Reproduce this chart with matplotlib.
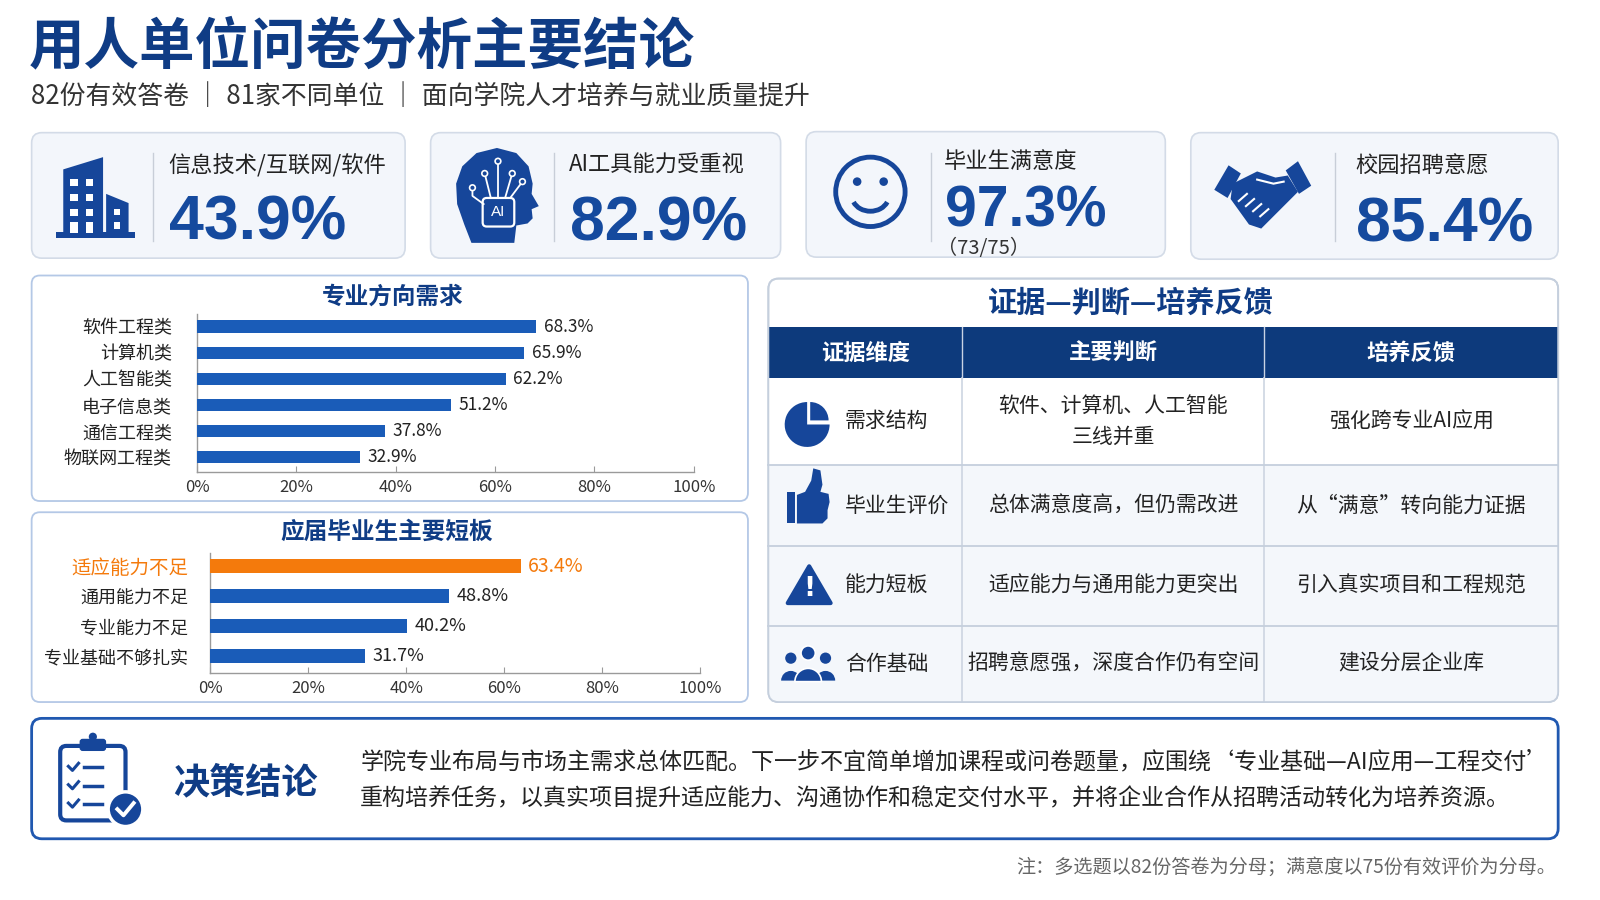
import matplotlib
matplotlib.use('Agg')
import matplotlib.pyplot as plt
from matplotlib.patches import FancyBboxPatch, Rectangle, Circle, Wedge, Polygon, Arc
import numpy as np

plt.rcParams['font.family'] = ['Noto Sans CJK SC', 'DejaVu Sans']

NAVY = '#0f3c85'
BLUE = '#1a5cb8'
ICON = '#16469a'
ORANGE = '#f47a0c'
DARK = '#222222'

# ---- data ----
title = '用人单位问卷分析主要结论'
subtitle = '82份有效答卷 ｜ 81家不同单位 ｜ 面向学院人才培养与就业质量提升'

kpi_labels = ['信息技术/互联网/软件', 'AI工具能力受重视', '毕业生满意度', '校园招聘意愿']
kpi_values = [43.9, 82.9, 97.3, 85.4]
kpi_notes = ['', '', '（73/75）', '']

major_names = ['软件工程类', '计算机类', '人工智能类', '电子信息类', '通信工程类', '物联网工程类']
major_pct = [68.3, 65.9, 62.2, 51.2, 37.8, 32.9]

gap_names = ['适应能力不足', '通用能力不足', '专业能力不足', '专业基础不够扎实']
gap_pct = [63.4, 48.8, 40.2, 31.7]

table_title = '证据—判断—培养反馈'
table_head = ['证据维度', '主要判断', '培养反馈']
table_dims = ['需求结构', '毕业生评价', '能力短板', '合作基础']
table_judge = ['软件、计算机、人工智能\n三线并重', '总体满意度高，但仍需改进',
               '适应能力与通用能力更突出', '招聘意愿强，深度合作仍有空间']
table_feedback = ['强化跨专业AI应用', '从“满意”转向能力证据', '引入真实项目和工程规范', '建设分层企业库']

conclusion_title = '决策结论'
conclusion_lines = ['学院专业布局与市场主需求总体匹配。下一步不宜简单增加课程或问卷题量，应围绕‘专业基础—AI应用—工程交付’',
                    '重构培养任务，以真实项目提升适应能力、沟通协作和稳定交付水平，并将企业合作从招聘活动转化为培养资源。']
footnote = '注：多选题以82份答卷为分母；满意度以75份有效评价为分母。'

# ---- canvas ----
fig = plt.figure(figsize=(16, 9), dpi=100)
W, H = 1568, 882
bg = fig.add_axes([0, 0, 1, 1])
bg.set_xlim(0, W)
bg.set_ylim(H, 0)
bg.axis('off')


def rbox(x0, y0, x1, y1, fc, ec, lw=1.2, r=10, z=1):
    p = FancyBboxPatch((x0, y0), x1 - x0, y1 - y0,
                       boxstyle='round,pad=0,rounding_size=%d' % r,
                       fc=fc, ec=ec, lw=lw, zorder=z)
    bg.add_patch(p)
    return p


def txt(x, y, s, size, color=DARK, weight='normal', ha='left', va='center', **kw):
    return bg.text(x, y, s, fontsize=size, color=color, fontweight=weight,
                   ha=ha, va=va, zorder=10, **kw)


def axrect(x0, y0, x1, y1):
    return [x0 / W, 1 - y1 / H, (x1 - x0) / W, (y1 - y0) / H]


# title
txt(28, 46, title, 40, color=NAVY, weight='heavy')
txt(30, 95, subtitle, 18.6, color='#333333', weight='medium')

# ---- KPI cards ----
cards = [(31, 130, 397, 253), (422, 130, 765, 253), (790, 129, 1142, 252), (1167, 130, 1527, 254)]
div_x = [150, 543, 912, 1308]
lab_x = [165, 558, 925, 1328]
lab_y = [162, 162, 158, 163]
val_base = [235, 236, 222, 237]
val_size = [45, 45, 41, 45]
for i in range(4):
    x0, y0, x1, y1 = cards[i]
    rbox(x0, y0, x1, y1, '#f3f6fb', '#d3dbe7', lw=1.2, r=10)
    bg.plot([div_x[i], div_x[i]], [150, 236], color='#c8ced8', lw=1, zorder=3)
    txt(lab_x[i], lab_y[i], kpi_labels[i], 16, color=DARK, weight='medium')
    txt(lab_x[i] + 1, val_base[i], '%.1f%%' % kpi_values[i], val_size[i], color='#154a9e',
        weight='bold', va='baseline', family='Liberation Sans')
    if kpi_notes[i]:
        txt(lab_x[i] - 7, 244, kpi_notes[i], 14.5, color='#333333')

# building icon
bg.add_patch(Polygon([(62, 232), (62, 166), (101, 154), (101, 232)], fc=ICON, ec='none', zorder=4))
bg.add_patch(Polygon([(104, 232), (104, 190), (126, 199), (126, 232)], fc=ICON, ec='none', zorder=4))
bg.add_patch(Rectangle((55, 227), 77, 6, fc=ICON, ec='none', zorder=4))
for wy in [175, 190, 205]:
    for wx in [69, 84]:
        bg.add_patch(Rectangle((wx, wy), 7, 7, fc='white', ec='none', zorder=5))
bg.add_patch(Rectangle((69, 218), 7, 10, fc='white', ec='none', zorder=5))
bg.add_patch(Rectangle((84, 218), 7, 10, fc='white', ec='none', zorder=5))
for wy in [205, 218]:
    bg.add_patch(Rectangle((112, wy), 6, 6, fc='white', ec='none', zorder=5))

# AI head icon
head = [(462, 238), (455, 220), (448, 200), (447, 180), (453, 163), (467, 150), (487, 145),
        (506, 150), (518, 163), (522, 180), (521, 190), (528, 202), (521, 205), (522, 214),
        (517, 219), (506, 221), (504, 238)]
bg.add_patch(Polygon(head, fc=ICON, ec='none', zorder=4))
bg.add_patch(FancyBboxPatch((473, 194), 31, 28, boxstyle='round,pad=0,rounding_size=4',
                            fc=ICON, ec='white', lw=1.6, zorder=5))
txt(488.5, 208, 'AI', 11, color='white', ha='center', family='Liberation Sans')
for (xa, ya, xb, yb) in [(481, 194, 475, 170), (488, 194, 488, 158), (495, 194, 502, 170), (500, 194, 512, 178)]:
    bg.plot([xa, xb], [ya, yb], color='white', lw=1.3, zorder=5)
    bg.add_patch(Circle((xb, yb), 2.8, fc=ICON, ec='white', lw=1.2, zorder=6))
bg.plot([474, 463, 463], [200, 192, 184], color='white', lw=1.3, zorder=5)
bg.add_patch(Circle((463, 184), 2.8, fc=ICON, ec='white', lw=1.2, zorder=6))

# smiley icon
bg.add_patch(Circle((853, 188), 34, fc='none', ec=ICON, lw=3.5, zorder=4))
bg.add_patch(Circle((840, 178), 4.2, fc=ICON, ec='none', zorder=4))
bg.add_patch(Circle((866, 178), 4.2, fc=ICON, ec='none', zorder=4))
bg.add_patch(Arc((853, 192), 36, 30, theta1=20, theta2=160, ec=ICON, lw=3.5, zorder=4))

# handshake icon
bg.add_patch(Polygon([(1190, 186), (1204, 162), (1216, 170), (1203, 194)], fc=ICON, ec='none', zorder=4))
bg.add_patch(Polygon([(1260, 167), (1272, 158), (1285, 182), (1273, 190)], fc=ICON, ec='none', zorder=4))
bg.add_patch(Polygon([(1208, 180), (1232, 168), (1250, 174), (1262, 172), (1272, 188),
                      (1252, 208), (1236, 224), (1224, 220), (1206, 195)], fc=ICON, ec='none', zorder=4))
for k in range(4):
    bg.plot([1214 + 7 * k, 1222 + 7 * k], [197 + 5 * k, 190 + 5 * k], color='white', lw=1.5, zorder=5)
bg.plot([1232, 1248, 1258], [176, 180, 178], color='white', lw=1.5, zorder=5)

# ---- bar panels ----
rbox(31, 270, 733, 491, 'white', '#b4c8e6', lw=1.3, r=8)
rbox(31, 502, 733, 688, 'white', '#b4c8e6', lw=1.3, r=8)
txt(385, 291, '专业方向需求', 17, color=NAVY, weight='bold', ha='center')
txt(379, 521, '应届毕业生主要短板', 17, color=NAVY, weight='bold', ha='center')


def bar_panel(rect, names, vals, colors, top_pad, bot_pad, lab_size, val_size, lab_pad):
    ax = fig.add_axes(rect)
    ax.set_facecolor('none')
    y = np.arange(len(names))
    ax.barh(y, vals, height=0.47, color=colors, zorder=3)
    ax.set_xlim(0, 100)
    ax.set_ylim(len(names) - 1 + bot_pad, -top_pad)
    ax.set_yticks(y, names)
    ax.set_xticks(range(0, 101, 20), ['%d%%' % t for t in range(0, 101, 20)])
    ax.tick_params(axis='y', length=0, pad=lab_pad, labelsize=lab_size, labelcolor=DARK)
    ax.tick_params(axis='x', direction='in', length=4, color='#9a9a9a', pad=5,
                   labelsize=12, labelcolor='#333333')
    for s in ['top', 'right']:
        ax.spines[s].set_visible(False)
    for s in ['left', 'bottom']:
        ax.spines[s].set_color('#9a9a9a')
        ax.spines[s].set_linewidth(1)
    for i, v in enumerate(vals):
        ax.text(v + 1.5, i, '%.1f%%' % v, va='center', ha='left',
                fontsize=val_size, color=DARK, zorder=4)
    return ax


ax1 = bar_panel(axrect(193, 308, 680, 463), major_names, major_pct,
                [BLUE] * len(major_pct), 0.47, 0.59, 13, 12.5, 18)

gap_colors = [ORANGE] + [BLUE] * (len(gap_pct) - 1)
ax2 = bar_panel(axrect(206, 542, 686, 660), gap_names, gap_pct,
                gap_colors, 0.44, 0.58, 13, 13, 16)
ax2.get_yticklabels()[0].set_color(ORANGE)
ax2.get_yticklabels()[0].set_fontsize(14)
ax2.texts[0].set_color(ORANGE)
ax2.texts[0].set_fontsize(14)
ax2.texts[0].set_fontweight('medium')

# ---- table ----
panel = rbox(753, 273, 1527, 688, 'white', '#c5cfdd', lw=1.3, r=10)
txt(1108, 297, table_title, 21, color=NAVY, weight='bold', ha='center')
cols = [753, 943, 1239, 1527]
rows = [370, 456, 535, 613, 688]
hdr = Rectangle((753, 320), 774, 50, fc='#0d3a7c', ec='none', zorder=2)
bg.add_patch(hdr)
hdr.set_clip_path(panel)
for j in range(3):
    txt((cols[j] + cols[j + 1]) / 2, 346, table_head[j], 16, color='white', weight='bold', ha='center')
for c in cols[1:3]:
    bg.plot([c, c], [320, 370], color='#c9d3e3', lw=1, zorder=3)
    bg.plot([c, c], [370, 688], color='#cdd5e1', lw=1.2, zorder=3)
for i in range(4):
    fc = 'white' if i == 0 else '#f4f7fb'
    r = Rectangle((753, rows[i]), 774, rows[i + 1] - rows[i], fc=fc, ec='none', zorder=2)
    bg.add_patch(r)
    r.set_clip_path(panel)
    if i > 0:
        bg.plot([753, 1527], [rows[i], rows[i]], color='#c5cfdd', lw=1.3, zorder=3)
    yc = (rows[i] + rows[i + 1]) / 2
    txt(828, yc, table_dims[i], 15, ha='left')
    txt((cols[1] + cols[2]) / 2, yc, table_judge[i], 15, ha='center', linespacing=1.55)
    txt((cols[2] + cols[3]) / 2, yc, table_feedback[i], 15, ha='center')
rbox(753, 273, 1527, 688, 'none', '#c5cfdd', lw=1.3, r=10, z=4)

# table icons
bg.add_patch(Wedge((791, 416), 22, 0, 270, fc=ICON, ec='none', zorder=5))
bg.add_patch(Wedge((794, 412), 18, 270, 360, fc=ICON, ec='none', zorder=5))
bg.add_patch(Rectangle((771, 482), 8, 31, fc=ICON, ec='none', zorder=5))
bg.add_patch(Polygon([(781, 485), (789, 482), (795, 471), (797, 459), (804, 461), (806, 475),
                      (804, 482), (812, 484), (813, 492), (811, 500), (811, 508), (806, 513),
                      (781, 513)], fc=ICON, ec='none', zorder=5))
bg.add_patch(Polygon([(793, 555), (772, 591), (814, 591)], fc=ICON, ec=ICON, lw=3,
                     joinstyle='round', zorder=5))
txt(793, 577, '!', 19, color='white', weight='bold', ha='center', family='DejaVu Sans')
for cx, r_h, r_b in [(775, 5.5, 9.5), (809, 5.5, 9.5)]:
    bg.add_patch(Circle((cx, 645), r_h, fc=ICON, ec='none', zorder=5))
    bg.add_patch(Wedge((cx, 667), r_b, 180, 360, fc=ICON, ec='none', zorder=5))
bg.add_patch(Circle((792, 640), 7, fc=ICON, ec='white', lw=1.2, zorder=6))
bg.add_patch(Wedge((792, 668), 13, 180, 360, fc=ICON, ec='white', lw=1.2, zorder=6))

# ---- conclusion ----
rbox(31, 704, 1527, 822, 'white', '#2058b0', lw=2, r=10)
bg.add_patch(FancyBboxPatch((59, 731), 64, 73, boxstyle='round,pad=0,rounding_size=6',
                            fc='none', ec=ICON, lw=3, zorder=5))
bg.add_patch(FancyBboxPatch((78, 724), 26, 12, boxstyle='round,pad=0,rounding_size=3',
                            fc=ICON, ec='none', zorder=6))
bg.add_patch(Circle((91, 722), 4, fc=ICON, ec='none', zorder=6))
for ly in [752, 770, 788]:
    bg.plot([67, 71, 77], [ly - 1, ly + 3, ly - 4], color=ICON, lw=2.2, zorder=6)
    bg.plot([82, 100], [ly, ly], color=ICON, lw=2.5, zorder=6)
bg.add_patch(Circle((123, 793), 17, fc=ICON, ec='white', lw=2.5, zorder=7))
bg.plot([115, 121, 131], [793, 799, 787], color='white', lw=2.8, zorder=8)
txt(170, 767, conclusion_title, 26, color=NAVY, weight='bold')
txt(353, 747, conclusion_lines[0], 16.6)
txt(353, 783, conclusion_lines[1], 16.6)

txt(1525, 850, footnote, 13.8, color='#666666', ha='right')

fig.savefig('out.png', dpi=100, facecolor='white')
